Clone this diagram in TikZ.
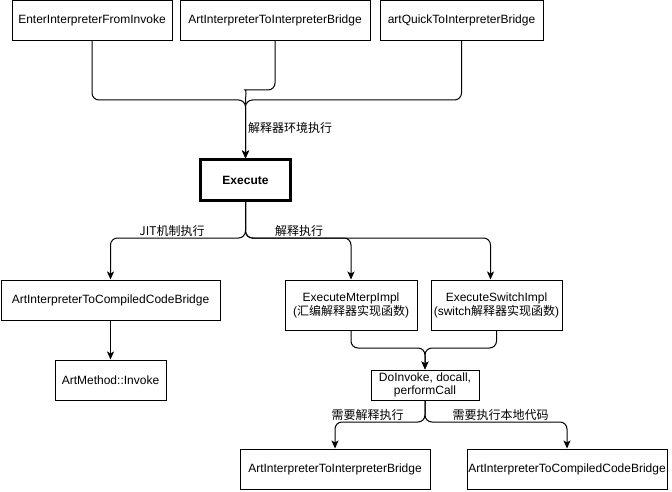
\documentclass[tikz,border=0pt]{standalone}
\usepackage{fontspec}
\setmainfont{Liberation Sans}
\newfontfamily\cjk{Noto Sans CJK SC}
\usetikzlibrary{arrows.meta}
\begin{document}
\begin{tikzpicture}[x=1pt,y=-1pt,
  box/.style={draw=black,line width=1pt,fill=white,inner sep=0pt,align=center,
    font=\fontsize{12}{14}\selectfont},
  edge/.style={draw=black,line width=1pt,rounded corners=7pt,-{Stealth[length=8pt,width=7pt,inset=2pt]}},
  line/.style={draw=black,line width=1pt,rounded corners=7pt},
  lbl/.style={inner sep=1pt,font=\fontsize{12}{14}\selectfont\cjk}]
\useasboundingbox (0,0) rectangle (672,492);
% nodes
\node[box,minimum width=160,minimum height=40] (b1) at (92,20.5) {EnterInterpreterFromInvoke};
\node[box,minimum width=190,minimum height=40] (b2) at (275,20.5) {ArtInterpreterToInterpreterBridge};
\node[box,minimum width=163,minimum height=40] (b3) at (461.5,20.5) {artQuickToInterpreterBridge};
\node[box,line width=3pt,minimum width=90,minimum height=40,font=\fontsize{12}{14}\selectfont\bfseries] (exec) at (245.5,180) {Execute};
\node[box,minimum width=219,minimum height=40] (cc1) at (110.5,300) {ArtInterpreterToCompiledCodeBridge};
\node[box,minimum width=132,minimum height=50] (mterp) at (351,305) {ExecuteMterpImpl\\({\cjk 汇编解释器实现函数})};
\node[box,minimum width=131,minimum height=50] (switch) at (496.5,305) {ExecuteSwitchImpl\\(switch{\cjk 解释器实现函数})};
\node[box,minimum width=111,minimum height=40] (am) at (110.5,380) {ArtMethod::Invoke};
\node[box,minimum width=108,minimum height=30,font=\fontsize{12}{13}\selectfont] (doinv) at (425,385) {DoInvoke, docall,\\performCall};
\node[box,minimum width=190,minimum height=40] (bl) at (335,469) {ArtInterpreterToInterpreterBridge};
\node[box,minimum width=200,minimum height=40] (br) at (567,469) {ArtInterpreterToCompiledCodeBridge};
% junctions
\coordinate (j1) at (245.5,100);
\coordinate (j2) at (245.5,238);
\coordinate (j3) at (425,348);
\coordinate (j4) at (425,422);
% top edges
\draw[edge] (b1.south) |- (j1) -- (exec.north);
\draw[edge] (b3.south) |- (j1) -- (exec.north);
\draw[line] (b2.south) |- (252,90) .. controls (247,90) and (245.5,94) .. (245.5,104);
\node[lbl,anchor=west] (l1) at (247,128) {解释器环境执行};
% execute edges
\draw[edge] (exec.south) -- (j2) -| (cc1.north);
\draw[edge] (exec.south) -- (j2) -| (mterp.north);
\draw[edge] (exec.south) -- (j2) -| ([xshift=-6]switch.north);
\node[lbl] (l2) at (172,230.5) {JIT机制执行};
\node[lbl] (l3) at (299,230.5) {解释执行};
\draw[edge] (cc1.south) -- (am.north);
% to DoInvoke
\draw[edge] (mterp.south) |- (j3) -- (doinv.north);
\draw[edge] (switch.south) |- (j3) -- (doinv.north);
% from DoInvoke
\draw[edge] (doinv.south) -- (j4) -| (bl.north);
\draw[edge] (doinv.south) -- (j4) -| (br.north);
\node[lbl] (l4) at (367.5,414.5) {需要解释执行};
\node[lbl] (l5) at (500.5,414.5) {需要执行本地代码};
\end{tikzpicture}
\end{document}
